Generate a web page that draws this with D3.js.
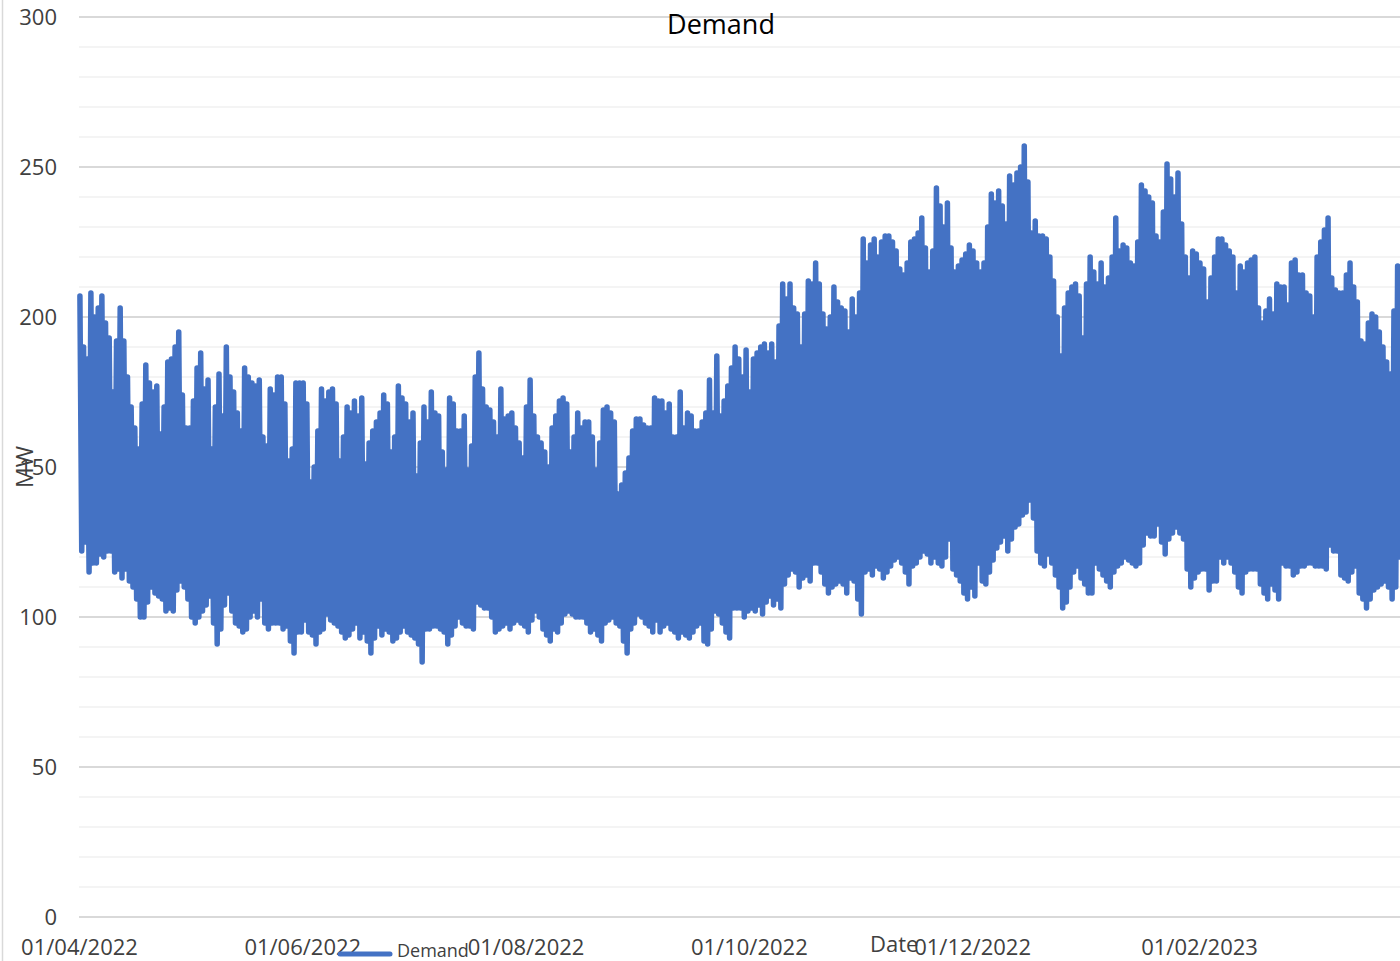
<!DOCTYPE html>
<html>
<head>
<meta charset="utf-8">
<script src="https://cdn.jsdelivr.net/npm/d3@7/dist/d3.min.js"></script>
<style>
  body { margin: 0; background: #ffffff; }
  text { font-family: "Open Sans", "Noto Sans", sans-serif; }
</style>
</head>
<body>
<script>

// ---- data ----
var chartTitle = "Demand";
var seriesName = "Demand";
var yTitle = "MW";
var xTitle = "Date";
var startDate = "2022-04-01";
var endDate = "2023-04-01";
var xTickLabels = ["01/04/2022", "01/06/2022", "01/08/2022", "01/10/2022", "01/12/2022", "01/02/2023"];
var yTickValues = [0, 50, 100, 150, 200, 250, 300];

// daily peak demand, MW (Apr 2022 .. Mar 2023, one line per month)
var dailyPeak = [
  207,190,186,208,200,203,207,198,193,175,192,203,192,180,170,163,156,171,184,178,175,177,161,170,185,186,190,195,174,163,
  163,172,183,188,176,179,156,170,181,167,190,180,175,168,162,183,180,178,177,179,160,157,176,174,180,180,171,152,156,178,178,
  178,171,145,150,162,176,172,175,176,171,152,160,170,168,172,167,173,151,158,162,165,168,174,171,155,160,177,173,171,165,
  168,147,158,170,165,175,168,167,155,149,173,171,162,162,167,149,157,180,188,176,170,169,165,160,176,166,167,168,163,158,153,
  170,179,167,160,158,155,150,163,167,172,173,171,155,160,168,163,165,165,160,149,158,169,170,168,165,141,144,148,153,162,166,
  166,164,163,163,173,172,172,168,171,160,160,175,163,168,167,162,162,165,168,179,168,187,167,172,177,183,190,186,180,189,
  175,186,188,190,191,188,191,185,197,211,206,211,203,201,190,201,212,211,218,211,201,196,200,210,205,203,202,195,206,200,208,
  226,218,224,226,220,225,227,227,225,222,216,214,218,225,226,228,233,223,215,222,243,237,230,238,223,215,217,219,221,224,
  222,218,215,218,230,241,238,242,237,231,247,244,248,250,257,245,228,232,227,227,226,220,212,200,187,203,208,210,211,207,193,
  211,220,215,211,218,210,213,220,233,222,224,223,218,217,225,244,242,240,238,227,225,235,251,246,240,248,231,220,213,222,221,
  218,216,205,213,220,226,226,224,222,220,208,217,215,218,219,220,203,198,202,206,201,211,210,210,204,218,219,214,
  214,208,207,200,220,225,229,233,213,209,208,208,214,218,210,205,192,191,198,201,200,195,190,185,181,202,217,210
];

// daily minimum demand, MW
var dailyLow = [
  122,125,115,118,118,121,120,122,122,115,116,113,116,112,110,106,100,100,105,110,108,107,106,102,103,102,109,112,110,106,
  100,98,100,102,104,107,98,91,96,104,108,102,98,97,95,96,100,102,100,106,98,96,98,98,98,96,97,92,88,95,95,
  99,95,94,91,95,96,101,99,98,97,95,93,94,96,98,93,95,92,88,93,97,94,96,95,92,93,95,97,95,94,
  93,91,85,96,96,97,97,96,95,91,94,97,100,98,97,97,96,105,104,103,103,100,95,96,97,98,96,98,99,98,97,
  95,99,102,100,96,94,92,96,95,98,101,102,101,100,100,100,98,95,96,94,92,98,99,100,98,97,92,88,96,98,101,
  100,98,97,95,99,95,97,98,96,95,93,95,94,93,95,97,98,92,91,96,102,101,98,95,93,103,103,103,100,102,
  103,102,104,101,105,107,104,106,103,111,114,116,115,110,113,114,112,118,118,115,111,108,110,111,112,111,108,113,112,106,101,
  115,116,114,117,116,113,115,117,119,120,118,115,111,117,118,120,122,121,118,120,118,117,120,126,116,114,112,108,106,110,
  107,118,112,111,115,119,123,125,127,122,126,130,131,134,135,139,133,122,118,117,121,118,114,110,103,105,110,115,117,113,111,
  108,108,118,116,114,112,110,115,117,118,120,119,118,117,118,124,128,127,127,131,125,121,126,128,130,128,126,116,110,113,115,
  116,116,109,112,112,120,118,120,118,115,110,108,115,116,116,116,111,108,106,111,109,106,118,117,117,114,115,117,
  117,118,118,117,117,117,116,124,122,122,114,113,112,115,117,108,106,103,106,109,110,111,112,110,106,110,120,118
];

// ---- layout ----
var svg_width = 1400, svg_height = 961;
var plot = {left: 79, right: 1415, top: 17, bottom: 917};
var lineColor = "#4472c4";
var labelColor = "#404040";

var svg, xScale, yScale;

start();

function start()
{
  setupContainer();
  setupScales();
  drawGrid();
  drawAxes();
  drawSeries();
  drawTexts();
}

function setupContainer()
{
  svg = d3.select("body").append("svg")
          .attr("width", svg_width)
          .attr("height", svg_height);

  svg.append("rect")
     .attr("width", svg_width)
     .attr("height", svg_height)
     .style("fill", "#ffffff");

  // chart area border on the left
  svg.append("line")
     .attr("x1", 2.5).attr("x2", 2.5)
     .attr("y1", 0).attr("y2", svg_height)
     .style("stroke", "#d9d9d9")
     .style("stroke-width", 1.5);
}

function setupScales()
{
  var parse = d3.timeParse("%Y-%m-%d");

  xScale = d3.scaleTime()
             .domain([parse(startDate), parse(endDate)])
             .range([plot.left, plot.right]);

  yScale = d3.scaleLinear()
             .domain([0, 300])
             .range([plot.bottom, plot.top]);
}

function drawGrid()
{
  var gridGroup = svg.append("g").attr("id", "grid");

  // minor lines every 10, major lines on the labelled ticks
  gridGroup.selectAll("line")
           .data(yScale.ticks(30))
           .enter()
           .append("line")
           .attr("x1", plot.left)
           .attr("x2", svg_width)
           .attr("y1", function(d) { return yScale(d); })
           .attr("y2", function(d) { return yScale(d); })
           .style("stroke", function(d) { return yTickValues.indexOf(d) >= 0 ? "#d9d9d9" : "#f0f0f0"; })
           .style("stroke-width", function(d) { return yTickValues.indexOf(d) >= 0 ? 2 : 1.5; });
}

function drawAxes()
{
  var parseTick = d3.timeParse("%d/%m/%Y");

  var yAxis = d3.axisLeft(yScale)
                .tickValues(yTickValues)
                .tickSize(0)
                .tickPadding(22);

  var yG = svg.append("g")
              .attr("transform", "translate(" + plot.left + ",0)")
              .call(yAxis);
  yG.select(".domain").remove();
  yG.selectAll("text")
    .style("font-family", "'Open Sans', sans-serif")
    .style("font-size", "22px")
    .style("fill", labelColor);

  var xAxis = d3.axisBottom(xScale)
                .tickValues(xTickLabels.map(parseTick))
                .tickFormat(d3.timeFormat("%d/%m/%Y"))
                .tickSize(0);

  var xG = svg.append("g")
              .attr("transform", "translate(0," + plot.bottom + ")")
              .call(xAxis);
  xG.select(".domain").remove();
  xG.selectAll("text")
    .attr("y", 38)
    .attr("dy", 0)
    .style("font-family", "'Open Sans', sans-serif")
    .style("font-size", "22px")
    .style("fill", labelColor);
}

function drawSeries()
{
  var parse = d3.timeParse("%Y-%m-%d");
  var t0 = parse(startDate);
  var points = [];

  // each day: peak around midday, trough overnight
  dailyPeak.forEach(function(v, i)
  {
    points.push({date: d3.timeHour.offset(t0, i * 24 + 6), value: v});
    points.push({date: d3.timeHour.offset(t0, i * 24 + 18), value: dailyLow[i]});
  });

  var line = d3.line()
               .x(function(d) { return xScale(d.date); })
               .y(function(d) { return yScale(d.value); });

  svg.append("path")
     .datum(points)
     .attr("d", line)
     .style("fill", "none")
     .style("stroke", lineColor)
     .style("stroke-width", 5.5)
     .style("stroke-linejoin", "round")
     .style("stroke-linecap", "round");
}

function drawTexts()
{
  // title
  svg.append("text")
     .attr("x", 721)
     .attr("y", 34)
     .attr("text-anchor", "middle")
     .text(chartTitle)
     .style("font-size", "27px")
     .style("fill", "#000000");

  // y axis title
  svg.append("text")
     .attr("transform", "translate(33,467) rotate(-90)")
     .attr("text-anchor", "middle")
     .text(yTitle)
     .style("font-size", "23px")
     .style("fill", labelColor);

  // x axis title
  svg.append("text")
     .attr("x", 870)
     .attr("y", 952)
     .text(xTitle)
     .style("font-size", "22px")
     .style("fill", labelColor);

  // legend
  svg.append("line")
     .attr("x1", 340).attr("x2", 390)
     .attr("y1", 954).attr("y2", 954)
     .style("stroke", lineColor)
     .style("stroke-width", 5)
     .style("stroke-linecap", "round");

  svg.append("text")
     .attr("x", 397)
     .attr("y", 957)
     .text(seriesName)
     .style("font-size", "18px")
     .style("fill", labelColor);
}

</script>
</body>
</html>
